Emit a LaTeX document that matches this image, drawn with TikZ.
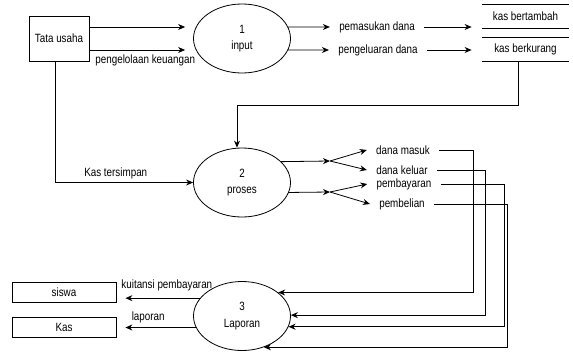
\documentclass[tikz,border=0pt]{standalone}
\usepackage{fontspec}
\setmainfont{Liberation Sans}[FakeStretch=0.82]
\usetikzlibrary{positioning,shapes.geometric,arrows.meta}

\begin{document}
\begin{tikzpicture}[x=1pt, y=-1pt, line width=0.8pt,
    font=\fontsize{12}{16.5}\selectfont,
    entity/.style={draw, minimum width=60pt, minimum height=45pt, inner sep=0pt},
    sink/.style={draw, minimum width=104pt, minimum height=20pt, inner sep=0pt},
    proc/.style={draw, ellipse, minimum width=97pt, minimum height=69pt, inner sep=0pt, align=center},
    store/.style={minimum width=87pt, minimum height=23pt, inner sep=0pt},
    lbl/.style={inner xsep=9pt, inner ysep=1pt},
    flow/.style={-{Stealth[length=7pt, width=6pt]}}]
    \useasboundingbox (0,0) rectangle (573,351);
    \node[entity] (tu) at (59,38.5) {Tata usaha};
    \node[proc] (p1) at (242,38.5) {1\\input};
    \node[proc] (p2) at (242,182.5) {2\\proses};
    \node[proc] (p3) at (242,316) {3\\Laporan};
    %% data stores
    \node[store] (kb) at (525.5,16.5) {kas bertambah};
    \node[store] (kk) at (525.5,49.5) {kas berkurang};
    \draw (kb.north west) -- (kb.north east) (kb.south west) -- (kb.south east);
    \draw (kk.north west) -- (kk.north east) (kk.south west) -- (kk.south east);
    %% labels between process 1 and the stores
    \node[lbl] (pm) at (377,27) {pemasukan dana};
    \node[lbl] (pk) at (378,50) {pengeluaran dana};
    %% labels out of process 2
    \node[lbl] (dm) at (403,150) {dana masuk};
    \node[lbl] (dk) at (402,170) {dana keluar};
    \node[lbl] (pb) at (404,184) {pembayaran};
    \node[lbl] (pl) at (402,204) {pembelian};
    \coordinate (j1) at (330,161);
    \coordinate (j2) at (330,192);
    %% outside entities of process 3
    \node[sink] (ss) at (64,292.5) {siswa};
    \node[sink] (ks) at (64,327) {Kas};

    \draw[flow, shorten >=8pt] ([yshift=11.5pt]tu.east) -- ([yshift=11.5pt]tu.east -| p1.west);
    \draw[flow, shorten >=8pt] ([yshift=-11.5pt]tu.east) -- ([yshift=-11.5pt]tu.east -| p1.west)
        node[below, pos=0.5, xshift=4pt, yshift=-1pt] {pengelolaan keuangan};
    \draw[flow] (p1.14) -- (pm.west);
    \draw[flow] (p1.-14) -- (pk.west);
    \draw[flow, shorten >=10pt] (pm.east) -- (pm.east -| kb.west);
    \draw[flow, shorten >=10pt] (pk.east) -- (pk.east -| kk.west);
    \draw[flow] ([xshift=-4pt]tu.south) |- (p2.west) node[above, pos=0.72] {Kas tersimpan};
    \draw[flow] ([xshift=-7pt]kk.south) -- ++(0,44) -| ([xshift=-5pt]p2.north);
    %% process 2 splits
    \draw[flow] (p2.28) -- (j1);
    \draw[flow] (p2.-12) -- (j2);
    \draw[flow] (j1) -- (dm.west);
    \draw[flow] (j1) -- (dk.west);
    \draw[flow] (j2) -- (pb.west);
    \draw[flow] (j2) -- (pl.west);
    %% back into process 3
    \draw[flow] (dm.east) -- ++(34,0) |- (p3.33);
    \draw[flow] (dk.east) -- ++(48,0) |- (p3.1);
    \draw[flow] (pb.east) -- ++(64,0) |- (p3.-13);
    \draw[flow] (pl.east) -- ++(73,0) |- (p3.-55);
    %% process 3 outputs
    \draw[flow, shorten >=9pt] (p3.157) -- (p3.157 -| ss.east)
        node[above left, pos=0, xshift=16pt, yshift=3pt] {kuitansi pembayaran};
    \draw[flow, shorten >=9pt] (p3.194) -- (p3.194 -| ks.east)
        node[above, pos=0.6, yshift=1pt] {laporan};
\end{tikzpicture}
\end{document}
